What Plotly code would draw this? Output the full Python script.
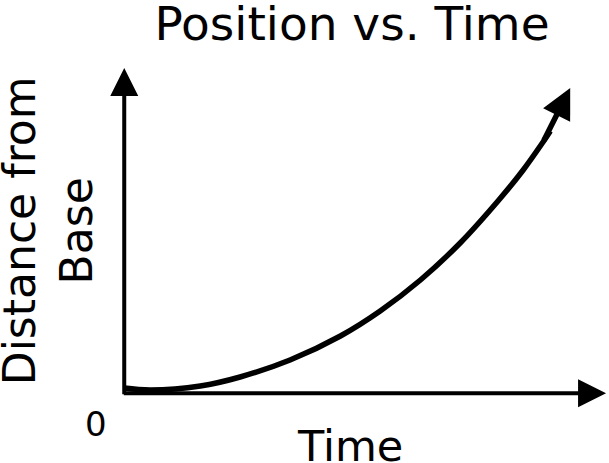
import plotly.graph_objects as go

# curve (arbitrary units, both axes run 0..10)
time_vals = [0.0, 0.54, 1.57, 2.39, 3.42, 4.46, 5.28, 6.11, 6.93, 7.71, 8.23, 8.64, 8.79]
dist_vals = [0.16, 0.10, 0.22, 0.49, 1.00, 1.72, 2.47, 3.40, 4.51, 5.77, 6.70, 7.54, 7.87]
curve_tip = (9.20, 9.16)

# axis arrows
x_axis = (-0.04, 9.94)
y_axis = (-0.07, 9.76)

FONT = "DejaVu Sans"

fig = go.Figure()
fig.add_trace(go.Scatter(x=time_vals, y=dist_vals, mode="lines",
                         line=dict(color="black", width=5.5, shape="spline", smoothing=1.0),
                         hoverinfo="skip", showlegend=False))


def arrow(x0, y0, x1, y1, w, size):
    return dict(x=x1, y=y1, ax=x0, ay=y0, xref="x", yref="y", axref="x", ayref="y",
                text="", showarrow=True, arrowhead=2, arrowwidth=w, arrowsize=size,
                arrowcolor="black", standoff=0, startstandoff=0)


def label(text, x, y, size, angle=0):
    return dict(x=x, y=y, xref="paper", yref="paper", text=text, textangle=angle,
                xanchor="center", yanchor="middle", showarrow=False,
                font=dict(family=FONT, size=size, color="black"))


annotations = [
    arrow(x_axis[0], 0, x_axis[1], 0, 4, 1.4),
    arrow(0, y_axis[0], 0, y_axis[1], 4, 1.4),
    arrow(time_vals[-2], dist_vals[-2], curve_tip[0], curve_tip[1], 5.5, 1.1),
    label("Distance from<br>Base", -0.102, 0.511, 44, -90),
    label("Time", 0.491, -0.103, 43),
    label("0", -0.008, -0.04, 34),
]

fig.update_layout(
    width=609, height=463,
    margin=dict(l=100, r=0, t=60, b=53),
    paper_bgcolor="white", plot_bgcolor="white",
    title=dict(text="Position vs. Time", x=0.578, xanchor="center", y=0.95, yanchor="middle",
               font=dict(family=FONT, size=47, color="black")),
    xaxis=dict(range=[-0.5, 10], visible=False),
    yaxis=dict(range=[-0.5, 10], visible=False),
    annotations=annotations,
)

fig.write_html("out.html", config={"displayModeBar": False},
               post_script="document.body.style.margin='0px';")
